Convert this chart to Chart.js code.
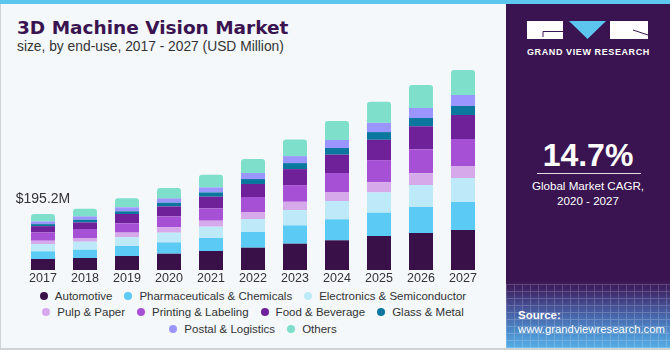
<!DOCTYPE html>
<html>
<head>
<meta charset="utf-8">
<script src="https://cdn.jsdelivr.net/npm/chart.js@4.4.1/dist/chart.umd.min.js"></script>
<style>
  html, body { margin: 0; padding: 0; }
  body { width: 670px; height: 350px; position: relative; overflow: hidden; background: #f4f8fb; font-family: "Liberation Sans", Arial, sans-serif; }
  .abs { position: absolute; }
  #stripe { left: 0; top: 0; width: 670px; height: 4px; background: #5cc6ef; }
  #lborder { left: 0; top: 4px; width: 1px; height: 346px; background: #cfd3d6; }
  #bborder { left: 0; top: 348px; width: 670px; height: 2px; background: #cfd3d6; }
  #title { left: 17px; top: 19px; font-family: "DejaVu Sans", sans-serif; font-size: 18.5px; line-height: 1; font-weight: bold; color: #3a1450; white-space: nowrap; }
  #subtitle { left: 17px; top: 39.6px; font-size: 13.8px; line-height: 1; color: #333; white-space: nowrap; }
  #chartWrap { left: 0; top: 0; width: 506px; height: 287px; }
  #legend { left: 28px; top: 287.8px; width: 450px; display: flex; flex-wrap: wrap; justify-content: center; column-gap: 12px; }
  .li { display: flex; align-items: center; height: 16.4px; font-size: 11.5px; color: #333; white-space: nowrap; }
  .dot { width: 8px; height: 8px; border-radius: 50%; margin-right: 7px; }
  #panel { left: 506px; top: 4px; width: 164px; height: 344px;
    background: linear-gradient(to bottom, #3a1450 0px, #3a1450 276px, #3e2464 285px, #47569c 305px, #4c86c6 325px, #55aee6 344px); }
  #grid { left: 506px; top: 284px; width: 164px; height: 64px; opacity: 0.18;
    background-image: repeating-linear-gradient(to right, #fff 0, #fff 1px, transparent 1px, transparent 8px),
                      repeating-linear-gradient(to bottom, #fff 0, #fff 1px, transparent 1px, transparent 7px); }
  .ptxt { left: 506px; width: 164px; text-align: center; color: #fff; line-height: 1; white-space: nowrap; }
  #gvr { left: 527px; top: 48px; font-size: 9px; font-weight: bold; letter-spacing: 0.6px; color: #fff; line-height: 1; white-space: nowrap; }
  #big { top: 138.8px; font-size: 32px; font-weight: bold; }
  #rule { left: 537px; top: 173px; width: 104px; height: 1px; background: rgba(255,255,255,0.85); }
  #cagr1 { top: 179.5px; font-size: 11.6px; }
  #cagr2 { top: 195.2px; font-size: 11.6px; }
  #src1 { left: 518px; top: 310px; font-size: 11.5px; font-weight: bold; color: #fff; line-height: 1; }
  #src2 { left: 518px; top: 324.4px; font-size: 11.3px; color: #fff; line-height: 1; white-space: nowrap; }
</style>
</head>
<body>
<div id="stripe" class="abs"></div>
<div id="lborder" class="abs"></div>
<div id="panel" class="abs"></div>
<div id="grid" class="abs"></div>
<div id="bborder" class="abs"></div>
<div id="title" class="abs">3D Machine Vision Market</div>
<div id="subtitle" class="abs">size, by end-use, 2017 - 2027 (USD Million)</div>
<div id="chartWrap" class="abs"><canvas id="c" width="506" height="287"></canvas></div>
<div id="legend" class="abs"></div>

<svg class="abs" style="left:506px;top:4px" width="164" height="50">
  <rect x="21" y="17" width="36" height="18" fill="#fff"/>
  <polyline points="37,33 37,27.5 57,27.5" fill="none" stroke="#3a1450" stroke-width="1"/>
  <polygon points="63,17 100,17 81.5,35" fill="#5cc6ef"/>
  <rect x="104" y="17" width="38" height="18" fill="#fff"/>
  <line x1="127" y1="26" x2="142" y2="31" stroke="#3a1450" stroke-width="1"/>
</svg>
<div id="gvr" class="abs">GRAND VIEW RESEARCH</div>
<div id="big" class="abs ptxt">14.7%</div>
<div id="rule" class="abs"></div>
<div id="cagr1" class="abs ptxt">Global Market CAGR,</div>
<div id="cagr2" class="abs ptxt">2020 - 2027</div>
<div id="src1" class="abs">Source:</div>
<div id="src2" class="abs">www.grandviewresearch.com</div>

<script>
const years = ['2017','2018','2019','2020','2021','2022','2023','2024','2025','2026','2027'];
const automotive   = [38.3, 41.8, 48.8, 56.8, 66.2, 77.7, 91.7, 103.5, 118.5, 129.0, 139.4];
const pharma       = [26.8, 28.9, 34.9, 39.4, 45.3, 54.7, 63.8, 73.2, 81.2, 90.6, 97.6];
const electronics  = [25.4, 27.9, 30.3, 33.8, 39.4, 45.3, 53.3, 63.8, 70.8, 76.7, 83.7];
const pulpPaper    = [11.5, 12.9, 16.4, 18.5, 20.9, 24.4, 28.9, 31.4, 35.9, 40.8, 41.8];
const printing     = [28.9, 31.4, 32.4, 38.3, 42.9, 52.3, 58.2, 66.2, 76.7, 83.7, 94.1];
const foodBev      = [22.0, 23.0, 32.4, 34.9, 40.8, 45.3, 55.8, 63.8, 70.8, 80.2, 83.7];
const glassMetal   = [7.0, 9.4, 9.4, 12.9, 15.0, 17.4, 20.9, 23.4, 26.8, 28.9, 31.4];
const postal       = [9.4, 11.5, 13.9, 15.0, 17.4, 20.9, 24.4, 27.9, 32.4, 34.9, 38.3];
const others       = [25.9, 26.8, 31.4, 35.9, 44.3, 48.8, 58.2, 66.2, 73.2, 80.2, 87.2];
const seriesNames  = ['Automotive','Pharmaceuticals & Chemicals','Electronics & Semiconductor','Pulp & Paper','Printing & Labeling','Food & Beverage','Glass & Metal','Postal & Logistics','Others'];
const seriesColors = ['#3a1049','#5bcaf5','#bde9f9','#d6aaea','#a650d6','#6e2199','#0b779e','#9b95ff','#7ee0cb'];
const firstLabel = '$195.2M';

const seriesData = [automotive, pharma, electronics, pulpPaper, printing, foodBev, glassMetal, postal, others];

const datasets = seriesData.map((d, i) => ({
  label: seriesNames[i],
  data: d,
  backgroundColor: seriesColors[i],
  borderWidth: 0,
  borderRadius: i === seriesData.length - 1 ? {topLeft: 3, topRight: 3, bottomLeft: 0, bottomRight: 0} : 0,
  borderSkipped: false,
  barPercentage: 1,
  categoryPercentage: 0.571
}));

const labelPlugin = {
  id: 'firstLabel',
  afterDatasetsDraw(chart) {
    const {ctx, scales} = chart;
    const total = seriesData.reduce((s, d) => s + d[0], 0);
    const x = scales.x.getPixelForValue(0);
    const y = scales.y.getPixelForValue(total) - 15;
    ctx.save();
    ctx.font = '14px "Liberation Sans", Arial, sans-serif';
    ctx.fillStyle = '#333';
    ctx.textAlign = 'center';
    ctx.textBaseline = 'middle';
    ctx.fillText(firstLabel, x, y);
    ctx.restore();
  }
};

new Chart(document.getElementById('c'), {
  type: 'bar',
  data: { labels: years, datasets },
  options: {
    responsive: false,
    animation: false,
    devicePixelRatio: 1,
    layout: { padding: { left: 22, right: 22, top: 60, bottom: 0 } },
    plugins: { legend: { display: false }, tooltip: { enabled: false } },
    scales: {
      x: {
        stacked: true,
        grid: { display: false, drawTicks: false },
        border: { display: false },
        ticks: { color: '#333', font: { size: 12.5, family: '"Liberation Sans", Arial, sans-serif' }, padding: 1, maxRotation: 0, autoSkip: false }
      },
      y: {
        stacked: true,
        display: false,
        min: 0,
        max: 732
      }
    }
  },
  plugins: [labelPlugin]
});

const legend = document.getElementById('legend');
seriesNames.forEach((n, i) => {
  const item = document.createElement('div');
  item.className = 'li';
  const dot = document.createElement('span');
  dot.className = 'dot';
  dot.style.background = seriesColors[i];
  item.appendChild(dot);
  item.appendChild(document.createTextNode(n));
  legend.appendChild(item);
});
</script>
</body>
</html>
